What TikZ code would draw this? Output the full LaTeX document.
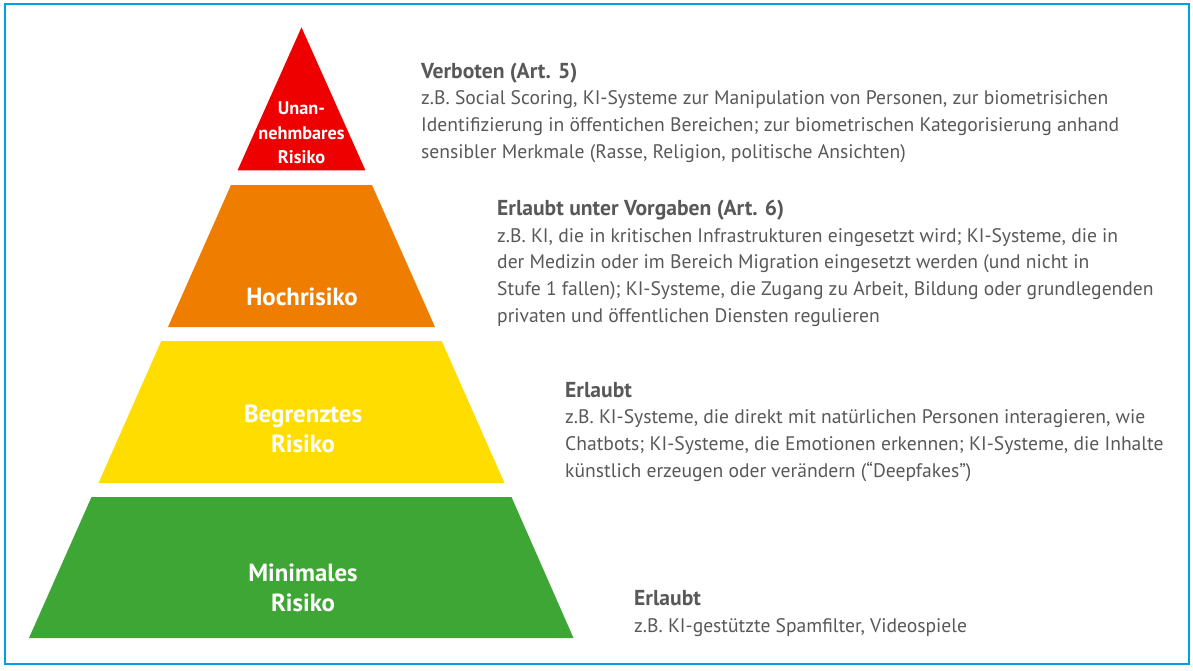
\documentclass[tikz,border=0pt]{standalone}
\usepackage{fontspec}
\setmainfont{PT Sans}
\definecolor{frame}{RGB}{0,160,227}
\definecolor{lvred}{RGB}{238,0,0}
\definecolor{lvorange}{RGB}{239,125,0}
\definecolor{lvyellow}{RGB}{255,221,0}
\definecolor{lvgreen}{RGB}{62,166,53}
\definecolor{txt}{RGB}{88,88,88}
\newcommand{\desctitle}[1]{{\bfseries\fontsize{21.6}{26.8}\selectfont #1}}
\tikzset{
  lvlabel/.style={text=white,font=\bfseries\fontsize{24.8}{30}\selectfont,align=center,inner sep=0},
  desc/.style={text=txt,font=\fontsize{19.6}{26.8}\selectfont,align=left,anchor=base west,inner sep=0},
}
\begin{document}
\begin{tikzpicture}[x=1pt,y=-1pt]
\useasboundingbox (0,0) rectangle (1193,670);
\draw[frame,line width=2pt] (5,4) rectangle (1189,664);
% pyramid, centre x=301.5, half width = 0.447*(y-27.3)
\fill[lvred] (301.5,27.3) -- (365.4,170.3) -- (237.6,170.3) -- cycle;
\fill[lvorange] (231.0,185) -- (372.0,185) -- (435.0,327) -- (168.0,327) -- cycle;
\fill[lvyellow] (161.3,341) -- (441.7,341) -- (504.5,483) -- (98.5,483) -- cycle;
\fill[lvgreen] (91.5,497) -- (511.5,497) -- (573.5,638) -- (29.0,638) -- cycle;
\node[lvlabel,font=\bfseries\fontsize{18.3}{24.5}\selectfont] (l1) at (301.5,133) {Unan-\\nehmbares\\Risiko};
\node[lvlabel] (l2) at (302,297) {Hochrisiko};
\node[lvlabel] (l3) at (303,429) {Begrenztes\\Risiko};
\node[lvlabel] (l4) at (303,588) {Minimales\\Risiko};
\node[desc] (d1) at (421,158.5) {\desctitle{Verboten (Art. 5)}\\z.B. Social Scoring, KI-Systeme zur Manipulation von Personen, zur biometrisichen\\Identifizierung in öffentichen Bereichen; zur biometrischen Kategorisierung anhand\\sensibler Merkmale (Rasse, Religion, politische Ansichten)};
\node[desc] (d2) at (497,322.5) {\desctitle{Erlaubt unter Vorgaben (Art. 6)}\\z.B. KI, die in kritischen Infrastrukturen eingesetzt wird; KI-Systeme, die in\\der Medizin oder im Bereich Migration eingesetzt werden (und nicht in\\Stufe 1 fallen); KI-Systeme, die Zugang zu Arbeit, Bildung oder grundlegenden\\privaten und öffentlichen Diensten regulieren};
\node[desc] (d3) at (565,477.5) {\desctitle{Erlaubt}\\z.B. KI-Systeme, die direkt mit natürlichen Personen interagieren, wie\\Chatbots; KI-Systeme, die Emotionen erkennen; KI-Systeme, die Inhalte\\künstlich erzeugen oder verändern (“Deepfakes”)};
\node[desc] (d4) at (634,632.5) {\desctitle{Erlaubt}\\z.B. KI-gestützte Spamfilter, Videospiele};
\end{tikzpicture}
\end{document}
